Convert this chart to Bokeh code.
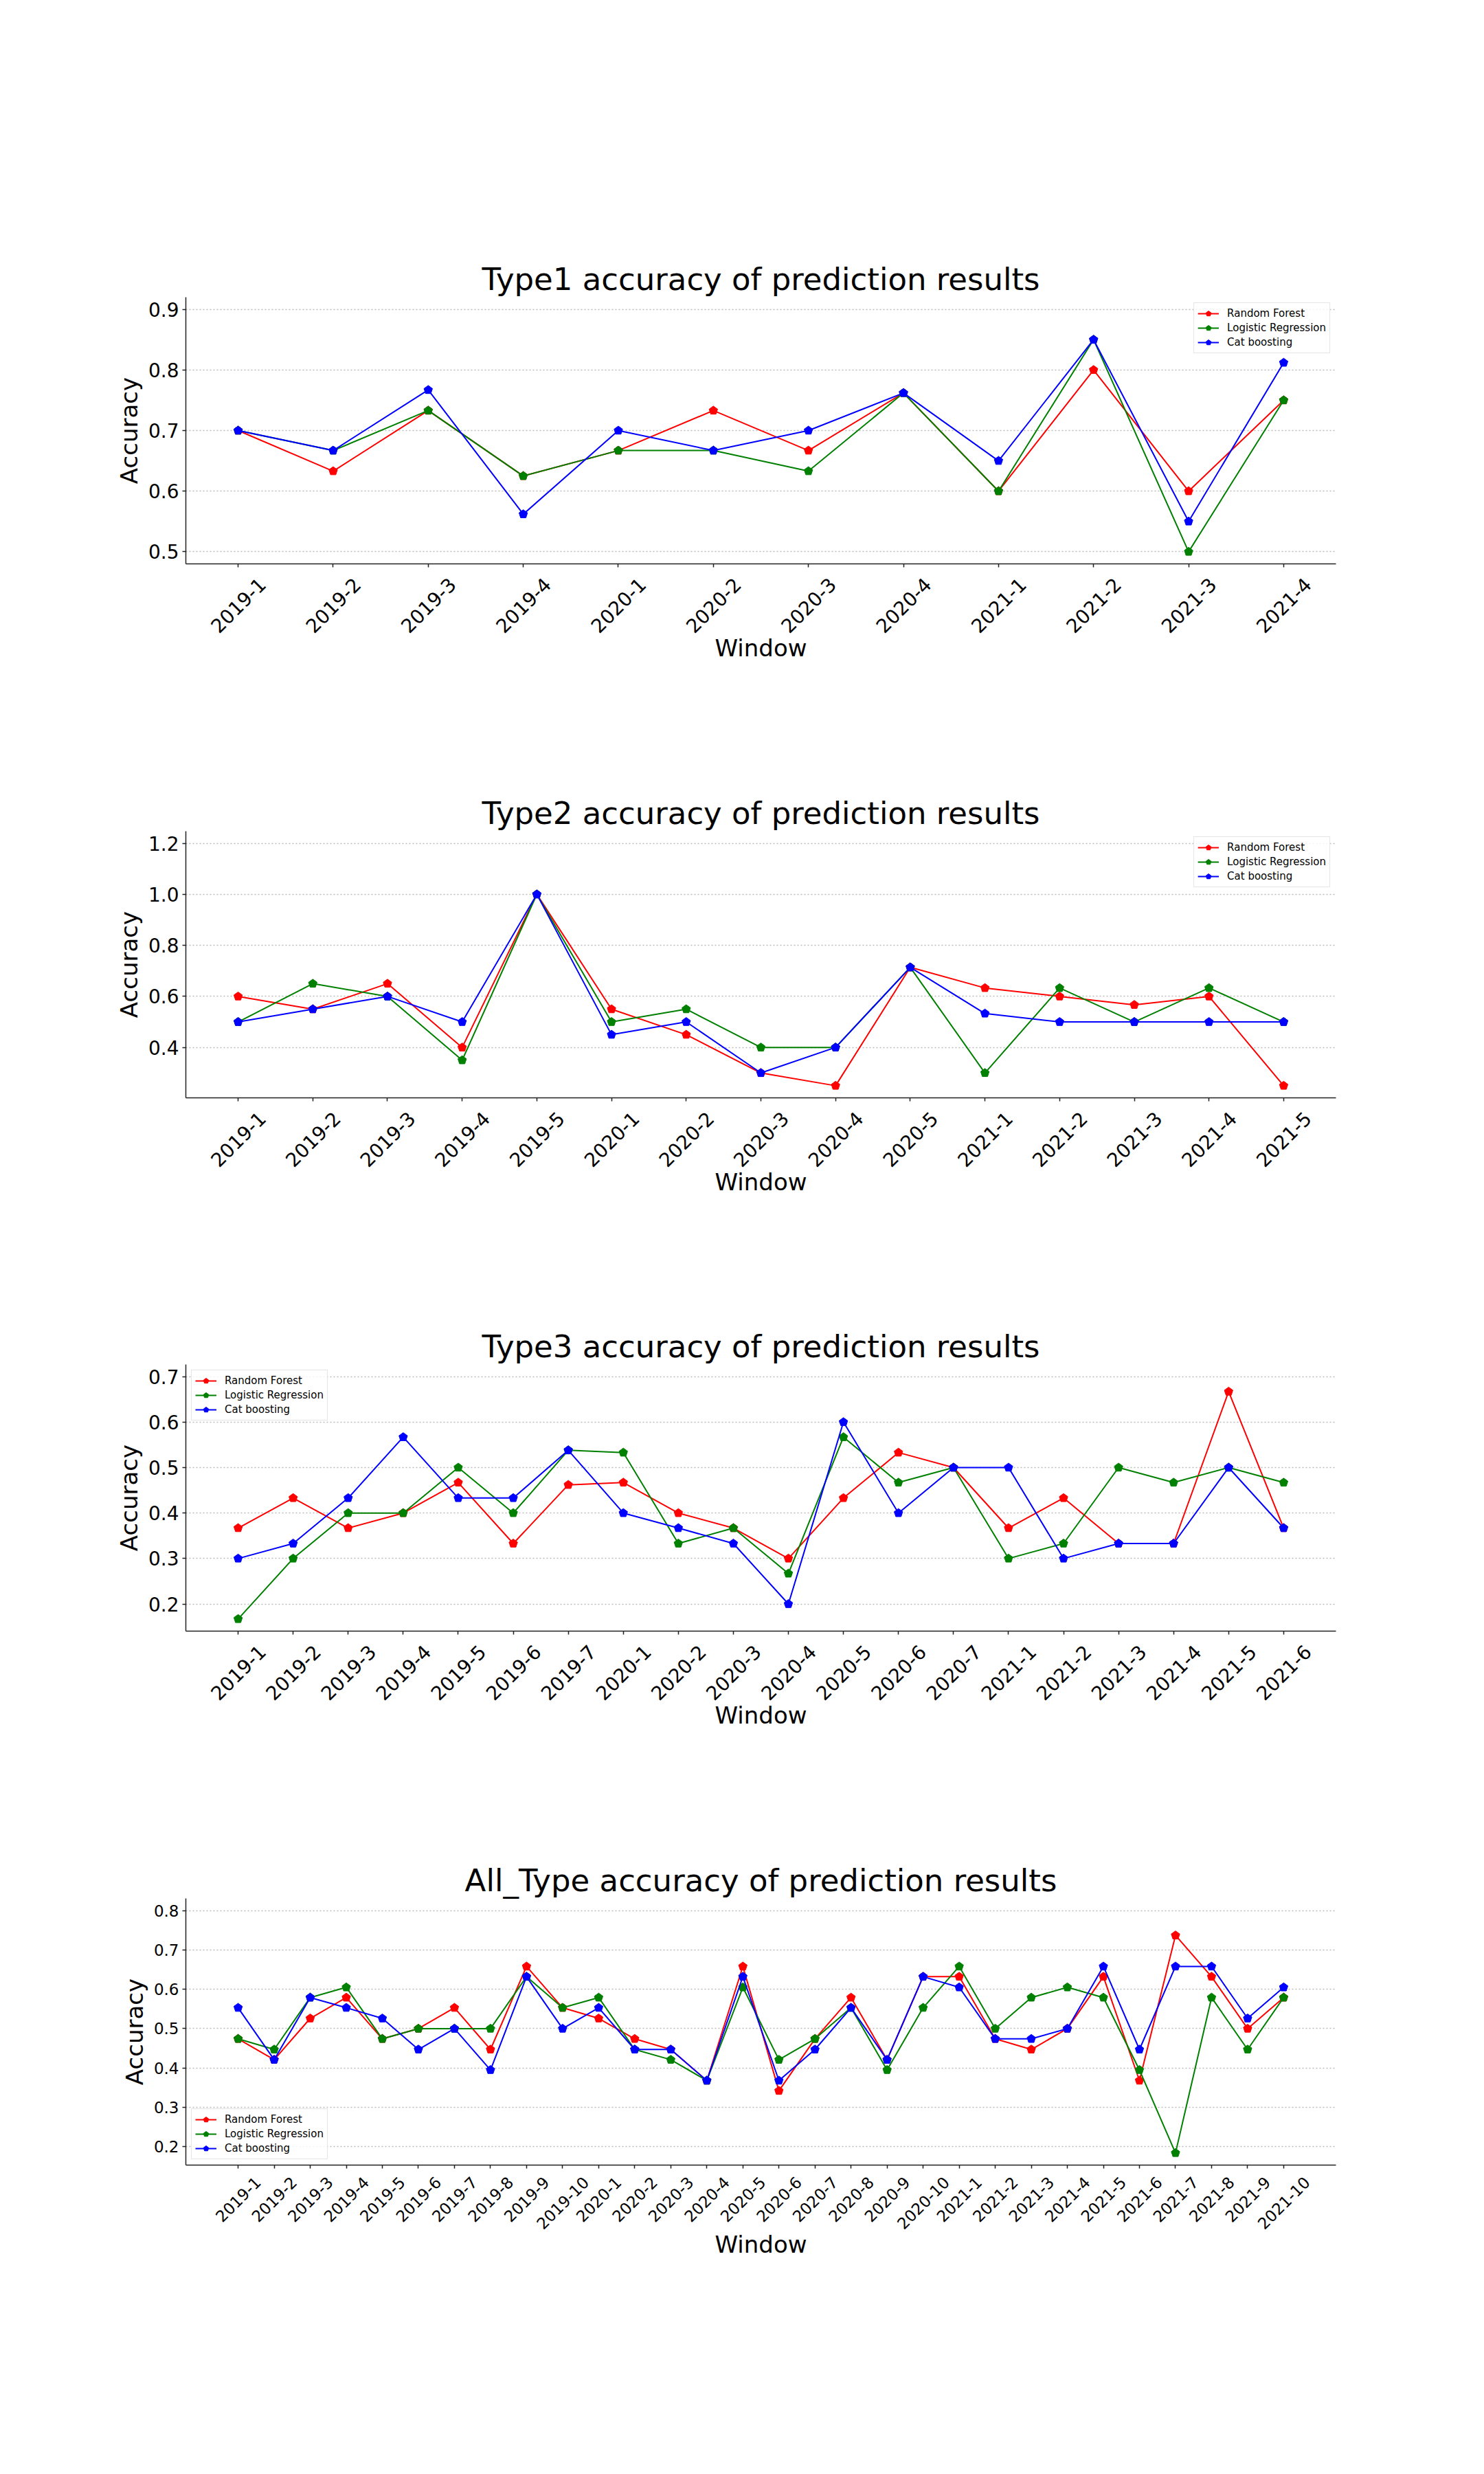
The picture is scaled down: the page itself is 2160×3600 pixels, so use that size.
import math
from bokeh.plotting import figure
from bokeh.layouts import column
from bokeh.models import Range1d, FixedTicker, NumeralTickFormatter, Legend, LegendItem
from bokeh.embed import file_html
from bokeh.resources import INLINE

# ---------------- data ----------------
titles = ["Type1 accuracy of prediction results",
          "Type2 accuracy of prediction results",
          "Type3 accuracy of prediction results",
          "All_Type accuracy of prediction results"]
series_names = ["Random Forest", "Logistic Regression", "Cat boosting"]

windows1 = ["2019-1", "2019-2", "2019-3", "2019-4", "2020-1", "2020-2", "2020-3", "2020-4",
            "2021-1", "2021-2", "2021-3", "2021-4"]
rf1 = [0.700, 0.633, 0.733, 0.625, 0.667, 0.733, 0.667, 0.762, 0.600, 0.800, 0.600, 0.750]
lr1 = [0.700, 0.667, 0.733, 0.625, 0.667, 0.667, 0.633, 0.762, 0.600, 0.850, 0.500, 0.750]
cb1 = [0.700, 0.667, 0.767, 0.562, 0.700, 0.667, 0.700, 0.762, 0.650, 0.850, 0.550, 0.812]
yticks1 = [0.5, 0.6, 0.7, 0.8, 0.9]

windows2 = ["2019-1", "2019-2", "2019-3", "2019-4", "2019-5", "2020-1", "2020-2", "2020-3",
            "2020-4", "2020-5", "2021-1", "2021-2", "2021-3", "2021-4", "2021-5"]
rf2 = [0.600, 0.550, 0.650, 0.400, 1.000, 0.550, 0.450, 0.300, 0.250, 0.714, 0.633, 0.600, 0.567, 0.600, 0.250]
lr2 = [0.500, 0.650, 0.600, 0.350, 1.000, 0.500, 0.550, 0.400, 0.400, 0.714, 0.300, 0.633, 0.500, 0.633, 0.500]
cb2 = [0.500, 0.550, 0.600, 0.500, 1.000, 0.450, 0.500, 0.300, 0.400, 0.714, 0.533, 0.500, 0.500, 0.500, 0.500]
yticks2 = [0.4, 0.6, 0.8, 1.0, 1.2]

windows3 = ["2019-1", "2019-2", "2019-3", "2019-4", "2019-5", "2019-6", "2019-7",
            "2020-1", "2020-2", "2020-3", "2020-4", "2020-5", "2020-6", "2020-7",
            "2021-1", "2021-2", "2021-3", "2021-4", "2021-5", "2021-6"]
rf3 = [0.367, 0.433, 0.367, 0.400, 0.467, 0.333, 0.462, 0.467, 0.400, 0.367,
       0.300, 0.433, 0.533, 0.500, 0.367, 0.433, 0.333, 0.333, 0.667, 0.367]
lr3 = [0.167, 0.300, 0.400, 0.400, 0.500, 0.400, 0.538, 0.533, 0.333, 0.367,
       0.267, 0.567, 0.467, 0.500, 0.300, 0.333, 0.500, 0.467, 0.500, 0.467]
cb3 = [0.300, 0.333, 0.433, 0.567, 0.433, 0.433, 0.538, 0.400, 0.367, 0.333,
       0.200, 0.600, 0.400, 0.500, 0.500, 0.300, 0.333, 0.333, 0.500, 0.367]
yticks3 = [0.2, 0.3, 0.4, 0.5, 0.6, 0.7]

windows4 = ["2019-1", "2019-2", "2019-3", "2019-4", "2019-5", "2019-6", "2019-7", "2019-8", "2019-9", "2019-10",
            "2020-1", "2020-2", "2020-3", "2020-4", "2020-5", "2020-6", "2020-7", "2020-8", "2020-9", "2020-10",
            "2021-1", "2021-2", "2021-3", "2021-4", "2021-5", "2021-6", "2021-7", "2021-8", "2021-9", "2021-10"]
rf4 = [0.474, 0.421, 0.526, 0.579, 0.474, 0.500, 0.553, 0.447, 0.658, 0.553,
       0.526, 0.474, 0.447, 0.368, 0.658, 0.342, 0.474, 0.579, 0.421, 0.632,
       0.632, 0.474, 0.447, 0.500, 0.632, 0.368, 0.737, 0.632, 0.500, 0.579]
lr4 = [0.474, 0.447, 0.579, 0.605, 0.474, 0.500, 0.500, 0.500, 0.632, 0.553,
       0.579, 0.447, 0.421, 0.368, 0.605, 0.421, 0.474, 0.553, 0.395, 0.553,
       0.658, 0.500, 0.579, 0.605, 0.579, 0.395, 0.184, 0.579, 0.447, 0.579]
cb4 = [0.553, 0.421, 0.579, 0.553, 0.526, 0.447, 0.500, 0.395, 0.632, 0.500,
       0.553, 0.447, 0.447, 0.368, 0.632, 0.368, 0.447, 0.553, 0.421, 0.632,
       0.605, 0.474, 0.474, 0.500, 0.658, 0.447, 0.658, 0.658, 0.526, 0.605]
yticks4 = [0.2, 0.3, 0.4, 0.5, 0.6, 0.7, 0.8]

# ---------------- styling ----------------
COLORS = ["#ff0000", "#008000", "#0000ff"]
FONT = "DejaVu Sans"
AXIS_COLOR = "#222222"
MARKER_ANGLE = 0.0  # Bokeh's ngon points up by default (matplotlib "p" marker)
FRAME_W, FRAME_H = 1674, 388
BORDER_L, BORDER_R = 270, 206
charts = [
    dict(title=titles[0], cats=windows1, ys=[rf1, lr1, cb1], yticks=yticks1, top=432, h=1109,
         legend="top_right", tick_fs=28, xlab_standoff=-10),
    dict(title=titles[1], cats=windows2, ys=[rf2, lr2, cb2], yticks=yticks2, top=100, h=776,
         legend="top_right", tick_fs=28, xlab_standoff=-10),
    dict(title=titles[2], cats=windows3, ys=[rf3, lr3, cb3], yticks=yticks3, top=100, h=777,
         legend="top_left", tick_fs=28, xlab_standoff=-10),
    dict(title=titles[3], cats=windows4, ys=[rf4, lr4, cb4], yticks=yticks4, top=100, h=777,
         legend="bottom_left", tick_fs=23, xlab_standoff=-8),
]


def label_em(s):
    # DejaVu Sans advance widths (em) for digits and hyphen
    return sum(0.361 if ch == "-" else 0.636 for ch in s)


def add_markers(p, xs, ys, col, radius=6.5):
    if hasattr(p, "ngon"):
        return p.ngon(x=xs, y=ys, radius=radius, radius_units="screen", n=5, angle=MARKER_ANGLE,
                      fill_color=col, line_color=col, line_width=1)
    return p.scatter(xs, ys, marker="hex", size=2 * radius, fill_color=col, line_color=col)


def make_chart(c):
    n = len(c["cats"])
    xs = list(range(n))
    allv = [v for s in c["ys"] for v in s] + list(c["yticks"])
    lo, hi = min(allv), max(allv)
    pad = 0.05 * (hi - lo)
    x0, x1 = -0.05 * (n - 1), (n - 1) * 1.05
    p = figure(frame_width=FRAME_W, frame_height=FRAME_H,
               min_border_left=BORDER_L, min_border_right=BORDER_R,
               min_border_top=c["top"], min_border_bottom=c["h"] - c["top"] - FRAME_H,
               x_range=Range1d(x0, x1), y_range=Range1d(lo - pad, hi + pad),
               output_backend="svg", toolbar_location=None,
               title=c["title"])
    p.outline_line_color = None
    p.background_fill_color = "white"
    p.border_fill_color = "white"

    p.title.text_font = FONT
    p.title.text_font_size = "45px"
    p.title.text_font_style = "normal"
    p.title.text_color = "black"
    p.title.align = "center"
    p.title.standoff = 0

    p.xgrid.visible = False
    p.ygrid.grid_line_color = "#bbbbbb"
    p.ygrid.grid_line_dash = "2 3"
    p.ygrid.grid_line_width = 1.5

    # x tick labels: matplotlib centres each rotated label under its tick; Bokeh anchors the
    # label's right end, so label positions are shifted by half the rotated label width and the
    # real tick marks are drawn as "minor" ticks at the category positions.
    fs = c["tick_fs"]
    px_per_unit = FRAME_W / (x1 - x0)
    label_pos = [round(i + 0.3536 * label_em(s) * fs / px_per_unit, 6) for i, s in enumerate(c["cats"])]
    p.xaxis.ticker = FixedTicker(ticks=label_pos, minor_ticks=xs)
    p.xaxis.major_label_overrides = {pos: s for pos, s in zip(label_pos, c["cats"])}
    p.xaxis.major_label_orientation = math.pi / 4
    p.xaxis.major_tick_out = 0
    p.xaxis.major_tick_in = 0
    p.xaxis.major_tick_line_color = None
    p.xaxis.minor_tick_out = 5
    p.xaxis.minor_tick_in = 0
    p.xaxis.minor_tick_line_color = AXIS_COLOR
    p.xaxis.minor_tick_line_width = 1.5
    p.xaxis.major_label_standoff = round(0.78 * fs - 2)

    p.yaxis.ticker = FixedTicker(ticks=c["yticks"])
    p.yaxis.formatter = NumeralTickFormatter(format="0.0")
    p.yaxis.major_tick_line_color = AXIS_COLOR
    p.yaxis.major_tick_line_width = 1.5
    p.yaxis.major_tick_out = 5
    p.yaxis.major_tick_in = 0
    p.yaxis.minor_tick_line_color = None
    p.yaxis.major_label_standoff = 5

    for ax in (p.xaxis[0], p.yaxis[0]):
        ax.axis_line_color = AXIS_COLOR
        ax.axis_line_width = 1.5
        ax.major_label_text_font = FONT
        ax.major_label_text_font_size = f"{fs}px"
        ax.major_label_text_color = "black"
        ax.axis_label_text_font = FONT
        ax.axis_label_text_font_size = "34px"
        ax.axis_label_text_font_style = "normal"
        ax.axis_label_text_color = "black"
    p.xaxis.axis_label = "Window"
    p.yaxis.axis_label = "Accuracy"
    p.xaxis.axis_label_standoff = c["xlab_standoff"]
    p.yaxis.axis_label_standoff = 5

    items = []
    for name, ys, col in zip(series_names, c["ys"], COLORS):
        lr = p.line(xs, ys, line_color=col, line_width=2)
        mr = add_markers(p, xs, ys, col)
        items.append(LegendItem(label=name, renderers=[lr, mr]))

    leg = Legend(items=items, location=c["legend"])
    leg.label_text_font = FONT
    leg.label_text_font_size = "15px"
    leg.label_text_color = "black"
    leg.glyph_width = 31
    leg.glyph_height = 20
    leg.label_height = 20
    leg.spacing = 1
    leg.padding = 5
    leg.margin = 8
    leg.label_standoff = 12
    leg.border_line_color = "#cccccc"
    leg.border_line_width = 1.5
    leg.background_fill_alpha = 0.8
    p.add_layout(leg, "center")
    return p


figs = [make_chart(c) for c in charts]
layout = column(*figs, spacing=0)
open("out.html", "w").write(file_html(layout, INLINE))
